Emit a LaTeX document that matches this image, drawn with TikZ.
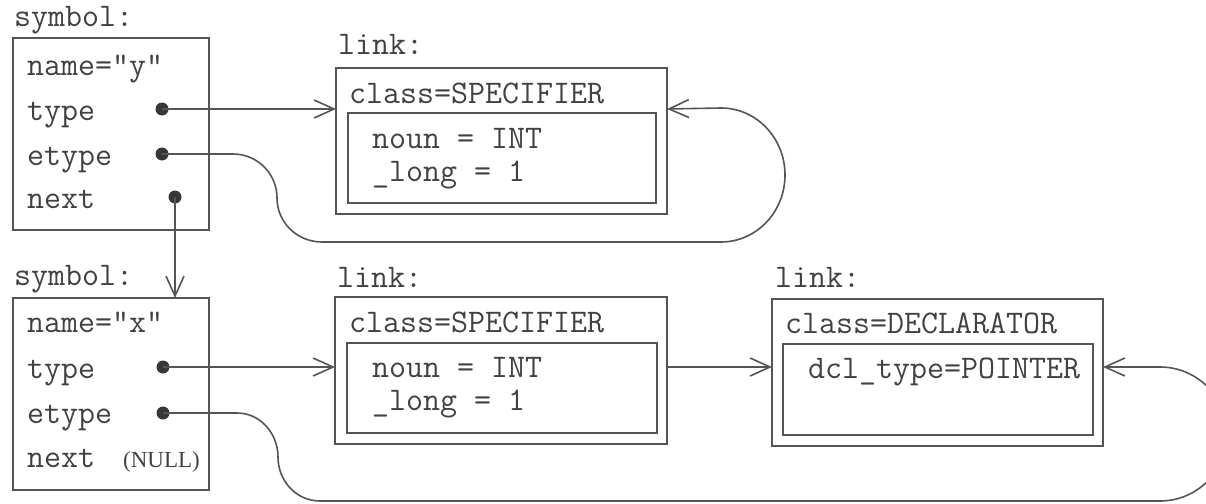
\documentclass[tikz,border=0pt]{standalone}
\usepackage{fontspec}
\newfontfamily\serifsm{Liberation Serif}
\usetikzlibrary{arrows.meta}
\definecolor{ink}{RGB}{85,85,85}
\definecolor{dotc}{RGB}{55,55,55}
\definecolor{txt}{RGB}{65,65,65}
\begin{document}
\begin{tikzpicture}[x=1pt,y=-1pt,
  box/.style={draw=ink,line width=1.8pt,anchor=north west,inner sep=0pt,outer sep=0pt},
  lbl/.style={anchor=base west,inner sep=0pt,font=\ttfamily\fontsize{33}{36}\selectfont,text=txt},
  nulllbl/.style={anchor=base west,inner sep=0pt,font=\serifsm\fontsize{23}{26}\selectfont,text=txt},
  dot/.style={circle,fill=dotc,inner sep=0pt,outer sep=0pt,minimum size=13pt},
  arr/.style={draw=ink,line width=1.6pt,-{Straight Barb[length=20pt,width=18pt,line width=1.6pt]}},
]
\useasboundingbox (0,0) rectangle (1206,503);

% ---------- symbol y ----------
\node[lbl] (s1lab) at (14,27) {symbol:};
\node[box,minimum width=196pt,minimum height=192pt] (s1) at (13,38) {};
\node[lbl] (s1name) at (27,75) {name="y"};
\node[lbl] (s1type) at (27,120) {type};
\node[lbl] (s1etype) at (27,165) {etype};
\node[lbl] (s1next) at (27,208) {next};
\node[dot] (d1t) at (162,109) {};
\node[dot] (d1e) at (162,154) {};
\node[dot] (d1n) at (175,197) {};

% ---------- link 1 ----------
\node[lbl] (l1lab) at (338,55) {link:};
\node[box,minimum width=331pt,minimum height=146pt] (l1) at (336,68) {};
\node[box,minimum width=308pt,minimum height=90pt] (l1in) at (348,113) {};
\node[lbl] (l1class) at (349,103) {class=SPECIFIER};
\node[lbl] (l1noun) at (372,148) {noun = INT};
\node[lbl] (l1long) at (372,181) {\_long = 1};

% ---------- symbol x ----------
\node[lbl] (s2lab) at (14,285) {symbol:};
\node[box,minimum width=196pt,minimum height=192pt] (s2) at (13,298) {};
\node[lbl] (s2name) at (27,332) {name="x"};
\node[lbl] (s2type) at (27,378) {type};
\node[lbl] (s2etype) at (27,423) {etype};
\node[lbl] (s2next) at (27,467) {next};
\node[nulllbl] (s2null) at (123,467) {(NULL)};
\node[dot] (d2t) at (163,367) {};
\node[dot] (d2e) at (163,413) {};

% ---------- link 2 ----------
\node[lbl] (l2lab) at (337,287) {link:};
\node[box,minimum width=332pt,minimum height=147pt] (l2) at (335,297) {};
\node[box,minimum width=310pt,minimum height=90pt] (l2in) at (347,343) {};
\node[lbl] (l2class) at (349,332) {class=SPECIFIER};
\node[lbl] (l2noun) at (372,377) {noun = INT};
\node[lbl] (l2long) at (372,410) {\_long = 1};

% ---------- link 3 ----------
\node[lbl] (l3lab) at (775,287) {link:};
\node[box,minimum width=331pt,minimum height=147pt] (l3) at (772,299) {};
\node[box,minimum width=310pt,minimum height=91pt] (l3in) at (783,344) {};
\node[lbl] (l3class) at (785,333) {class=DECLARATOR};
\node[lbl] (l3dcl) at (808,378) {dcl\_type=POINTER};

% ---------- connectors ----------
\draw[arr] (d1t.center) -- (d1t.center -| l1.west);
\draw[arr] (d1e.center) -- (233,154) to[out=0,in=90] (277,198) to[out=-90,in=180] (322,242)
  -- (721,242) arc[start angle=-90,end angle=90,x radius=64,y radius=-67] -- (l1.east |- d1t.center);
\draw[arr] (d1n.center) -- (d1n.center |- s2.north);
\draw[arr] (d2t.center) -- (d2t.center -| l2.west);
\draw[arr] (l2.east |- d2t.center) -- (l3.west |- d2t.center);
\draw[arr] (d2e.center) -- (237,413) to[out=0,in=90] (278,457) to[out=-90,in=180] (320,501)
  -- (1160,501) arc[start angle=-90,end angle=90,x radius=67,y radius=-67] -- (l3.east |- d2t.center);
\end{tikzpicture}
\end{document}
